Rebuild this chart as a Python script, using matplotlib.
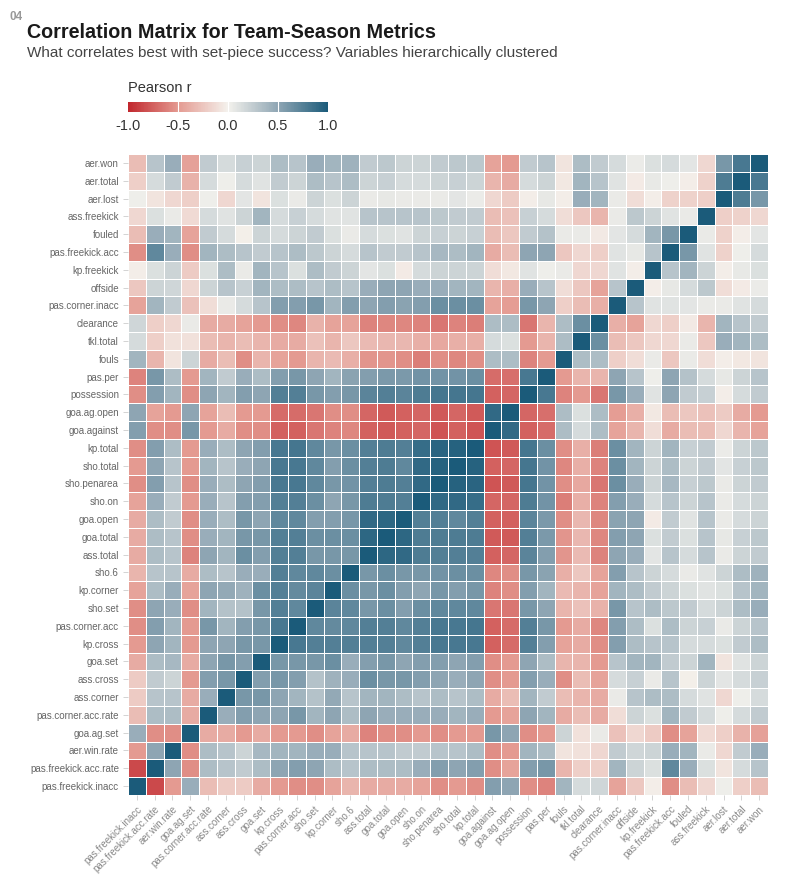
import numpy as np
import matplotlib.pyplot as plt
from matplotlib.colors import LinearSegmentedColormap

plt.rcParams['font.family'] = ['Liberation Sans', 'DejaVu Sans']

# variable order after hierarchical clustering (bottom-left to top-right)
variables = [
    'pas.freekick.inacc', 'pas.freekick.acc.rate', 'aer.win.rate', 'goa.ag.set',
    'pas.corner.acc.rate', 'ass.corner', 'ass.cross', 'goa.set', 'kp.cross',
    'pas.corner.acc', 'sho.set', 'kp.corner', 'sho.6', 'ass.total', 'goa.total',
    'goa.open', 'sho.on', 'sho.penarea', 'sho.total', 'kp.total', 'goa.against',
    'goa.ag.open', 'possession', 'pas.per', 'fouls', 'tkl.total', 'clearance',
    'pas.corner.inacc', 'offside', 'kp.freekick', 'pas.freekick.acc', 'fouled',
    'ass.freekick', 'aer.lost', 'aer.total', 'aer.won',
]

# lower triangle: r(variable i, variable j) for j < i
lower = [
    [],
    [-0.85],
    [-0.50, 0.50],
    [0.45, -0.55, -0.55],
    [-0.30, 0.35, 0.35, -0.40],
    [-0.22, 0.30, 0.30, -0.40, 0.45],
    [-0.22, 0.25, 0.20, -0.50, 0.55, 0.60],
    [-0.40, 0.35, 0.38, -0.40, 0.50, 0.60, 0.55],
    [-0.50, 0.50, 0.40, -0.50, 0.50, 0.50, 0.60, 0.60],
    [-0.55, 0.55, 0.40, -0.50, 0.60, 0.40, 0.55, 0.60, 0.80],
    [-0.55, 0.50, 0.45, -0.55, 0.40, 0.32, 0.32, 0.60, 0.75, 0.70],
    [-0.45, 0.35, 0.45, -0.45, 0.50, 0.48, 0.42, 0.65, 0.75, 0.68, 0.72],
    # sho.6
    [-0.35, 0.30, 0.30, -0.40, 0.35, 0.30, 0.45, 0.45, 0.75, 0.70, 0.70, 0.65],
    # ass.total
    [-0.40, 0.35, 0.30, -0.60, 0.50, 0.40, 0.65, 0.55, 0.75, 0.75, 0.60, 0.60,
     0.60],
    # goa.total
    [-0.40, 0.35, 0.30, -0.55, 0.45, 0.40, 0.60, 0.60, 0.75, 0.75, 0.65, 0.65,
     0.65, 0.92],
    # goa.open
    [-0.40, 0.35, 0.25, -0.55, 0.45, 0.35, 0.60, 0.50, 0.70, 0.70, 0.55, 0.55,
     0.60, 0.90, 0.92],
    # sho.on
    [-0.45, 0.45, 0.25, -0.50, 0.45, 0.30, 0.55, 0.55, 0.75, 0.75, 0.65, 0.50,
     0.60, 0.78, 0.78, 0.75],
    # sho.penarea
    [-0.55, 0.55, 0.30, -0.55, 0.45, 0.35, 0.50, 0.55, 0.80, 0.80, 0.70, 0.60,
     0.62, 0.75, 0.78, 0.75, 0.90],
    # sho.total
    [-0.50, 0.50, 0.30, -0.50, 0.40, 0.30, 0.45, 0.50, 0.80, 0.80, 0.70, 0.55,
     0.65, 0.75, 0.78, 0.70, 0.90, 0.95],
    # kp.total
    [-0.55, 0.55, 0.35, -0.50, 0.45, 0.35, 0.50, 0.55, 0.80, 0.82, 0.70, 0.60,
     0.65, 0.75, 0.78, 0.75, 0.88, 0.93, 0.95],
    # goa.against
    [0.55, -0.55, -0.55, 0.60, -0.50, -0.40, -0.55, -0.55, -0.75, -0.75, -0.65,
     -0.60, -0.58, -0.75, -0.78, -0.75, -0.72, -0.80, -0.75, -0.80],
    # goa.ag.open
    [0.50, -0.45, -0.50, 0.50, -0.45, -0.30, -0.50, -0.50, -0.70, -0.70, -0.65,
     -0.55, -0.55, -0.72, -0.78, -0.75, -0.72, -0.78, -0.72, -0.78, 0.90],
    # possession
    [-0.55, 0.55, 0.40, -0.55, 0.50, 0.40, 0.55, 0.50, 0.75, 0.75, 0.60, 0.55,
     0.60, 0.72, 0.75, 0.72, 0.78, 0.82, 0.82, 0.82, -0.75, -0.72],
    # pas.per
    [-0.60, 0.60, 0.35, -0.50, 0.40, 0.25, 0.45, 0.35, 0.55, 0.60, 0.50, 0.40,
     0.52, 0.55, 0.58, 0.58, 0.62, 0.62, 0.62, 0.65, -0.70, -0.68, 0.80],
    # fouls
    [0.40, -0.35, -0.08, 0.20, -0.40, -0.30, -0.55, -0.35, -0.45, -0.50, -0.35,
     -0.32, -0.38, -0.52, -0.52, -0.55, -0.62, -0.55, -0.58, -0.55, 0.35, 0.35,
     -0.60, -0.50],
    # tkl.total
    [0.15, -0.20, -0.10, -0.10, -0.30, -0.35, -0.30, -0.35, -0.40, -0.40, -0.28,
     -0.35, -0.25, -0.32, -0.33, -0.33, -0.38, -0.42, -0.38, -0.38, 0.15, 0.12,
     -0.50, -0.35, 0.35],
    # clearance
    [0.18, -0.20, -0.15, 0.05, -0.40, -0.40, -0.45, -0.50, -0.55, -0.58, -0.36,
     -0.45, -0.45, -0.60, -0.58, -0.58, -0.60, -0.65, -0.60, -0.62, 0.35, 0.35,
     -0.65, -0.35, 0.35, 0.65],
    # pas.corner.inacc
    [-0.45, 0.40, 0.25, -0.28, -0.12, 0.05, 0.15, 0.30, 0.55, 0.55, 0.60, 0.40,
     0.55, 0.50, 0.55, 0.52, 0.55, 0.65, 0.65, 0.65, -0.45, -0.48, 0.60, 0.50,
     -0.20, -0.30, -0.38],
    # offside
    [-0.25, 0.20, 0.18, -0.15, 0.20, 0.30, 0.22, 0.40, 0.35, 0.35, 0.30, 0.35,
     0.30, 0.45, 0.50, 0.50, 0.45, 0.45, 0.40, 0.40, -0.35, -0.38, 0.45, 0.30,
     -0.12, -0.25, -0.45, 0.30],
    # kp.freekick
    [-0.03, 0.12, 0.20, -0.22, 0.12, 0.35, 0.05, 0.40, 0.30, 0.12, 0.35, 0.25,
     0.20, 0.08, 0.12, -0.04, 0.15, 0.20, 0.20, 0.20, -0.12, -0.06, 0.10, 0.03,
     0.05, -0.15, -0.15, 0.10, -0.03],
    # pas.freekick.acc
    [-0.55, 0.70, 0.45, -0.55, 0.40, 0.35, 0.30, 0.25, 0.30, 0.35, 0.28, 0.20,
     0.15, 0.30, 0.25, 0.25, 0.30, 0.38, 0.35, 0.40, -0.40, -0.30, 0.50, 0.50,
     -0.25, -0.15, -0.20, 0.10, 0.07, 0.30],
    # fouled
    [-0.30, 0.45, 0.40, -0.45, 0.25, 0.15, -0.02, 0.20, 0.15, 0.20, 0.25, 0.12,
     0.05, 0.15, 0.12, 0.10, 0.20, 0.22, 0.20, 0.22, -0.30, -0.25, 0.25, 0.32,
     0.05, 0.05, -0.05, 0.08, 0.15, 0.40, 0.60],
    # ass.freekick
    [-0.15, 0.12, 0.05, -0.14, 0.15, 0.10, 0.20, 0.40, 0.15, 0.22, 0.15, 0.10,
     0.10, 0.30, 0.30, 0.30, 0.30, 0.28, 0.25, 0.25, -0.30, -0.28, 0.22, 0.15,
     -0.12, -0.25, -0.35, 0.05, 0.28, 0.20, 0.10, 0.05],
    # aer.lost
    [0.03, -0.08, -0.15, -0.20, 0.03, -0.15, 0.08, -0.08, 0.12, 0.05, 0.20, 0.12,
     0.20, 0.05, 0.07, 0.05, 0.05, 0.05, 0.08, 0.04, -0.15, -0.22, -0.03, 0.07,
     -0.03, 0.45, 0.40, 0.05, -0.12, -0.03, -0.18, -0.18, -0.20],
    # aer.total
    [-0.20, 0.15, 0.25, -0.36, 0.15, 0.03, 0.15, 0.10, 0.25, 0.20, 0.35, 0.30,
     0.35, 0.20, 0.22, 0.15, 0.15, 0.20, 0.22, 0.20, -0.35, -0.40, 0.15, 0.20,
     -0.06, 0.40, 0.30, 0.10, -0.04, 0.06, 0.03, -0.03, -0.18, 0.78],
    # aer.won
    [-0.30, 0.30, 0.45, -0.46, 0.25, 0.15, 0.22, 0.20, 0.35, 0.30, 0.45, 0.40,
     0.42, 0.25, 0.28, 0.20, 0.20, 0.25, 0.28, 0.28, -0.45, -0.50, 0.25, 0.30,
     -0.08, 0.35, 0.25, 0.15, 0.04, 0.12, 0.15, 0.08, -0.15, 0.60, 0.80],
]

n = len(variables)
corr = np.eye(n)
for i, row in enumerate(lower):
    for j, v in enumerate(row):
        corr[i, j] = v
        corr[j, i] = v

cmap = LinearSegmentedColormap.from_list(
    'pearson',
    [(0.0, '#c1272d'), (0.25, '#e49a91'), (0.5, '#f4f2ed'),
     (0.75, '#8fa6b4'), (1.0, '#1b5b7a')])

fig = plt.figure(figsize=(7.85, 8.83), dpi=100)
ax = fig.add_axes([128 / 785, 88 / 883, 640 / 785, 641 / 883])

mesh = ax.pcolormesh(np.arange(n + 1), np.arange(n + 1), corr, cmap=cmap,
                     vmin=-1, vmax=1, edgecolors='white', linewidth=0.6)
ax.set_xlim(0, n)
ax.set_ylim(0, n)
for s in ax.spines.values():
    s.set_visible(False)

ax.set_xticks(np.arange(n) + 0.5)
ax.set_xticklabels(variables, rotation=45, ha='right', rotation_mode='anchor',
                   fontsize=7, color='#888888')
ax.set_yticks(np.arange(n) + 0.5)
ax.set_yticklabels(variables, fontsize=7, color='#666666')
ax.tick_params(length=3.5, width=0.6, color='#cccccc', pad=3)

# colour bar
cax = fig.add_axes([128 / 785, 771 / 883, 200 / 785, 10 / 883])
cb = fig.colorbar(mesh, cax=cax, orientation='horizontal')
cb.outline.set_visible(False)
cb.set_ticks([-1, -0.5, 0, 0.5, 1])
cb.set_ticklabels(['-1.0', '-0.5', '0.0', '0.5', '1.0'])
cax.tick_params(length=0, labelsize=10.5, labelcolor='#333333', pad=5)
for t in [-0.5, 0, 0.5]:
    cax.axvline(t, color='white', linewidth=0.8)
fig.text(128 / 785, 1 - 88 / 883, 'Pearson r', fontsize=10.5, color='#333333',
         va='center', ha='left')

fig.text(10 / 785, 1 - 17 / 883, '04', fontsize=8.5, fontweight='bold',
         color='#999999', va='center', ha='left')
fig.text(27 / 785, 1 - 32 / 883, 'Correlation Matrix for Team-Season Metrics',
         fontsize=14.2, fontweight='bold', color='#1a1a1a', va='center', ha='left')
fig.text(27 / 785, 1 - 53 / 883,
         'What correlates best with set-piece success? Variables hierarchically clustered',
         fontsize=11, color='#444444', va='center', ha='left')

fig.savefig('out.png', dpi=100, facecolor='white')
